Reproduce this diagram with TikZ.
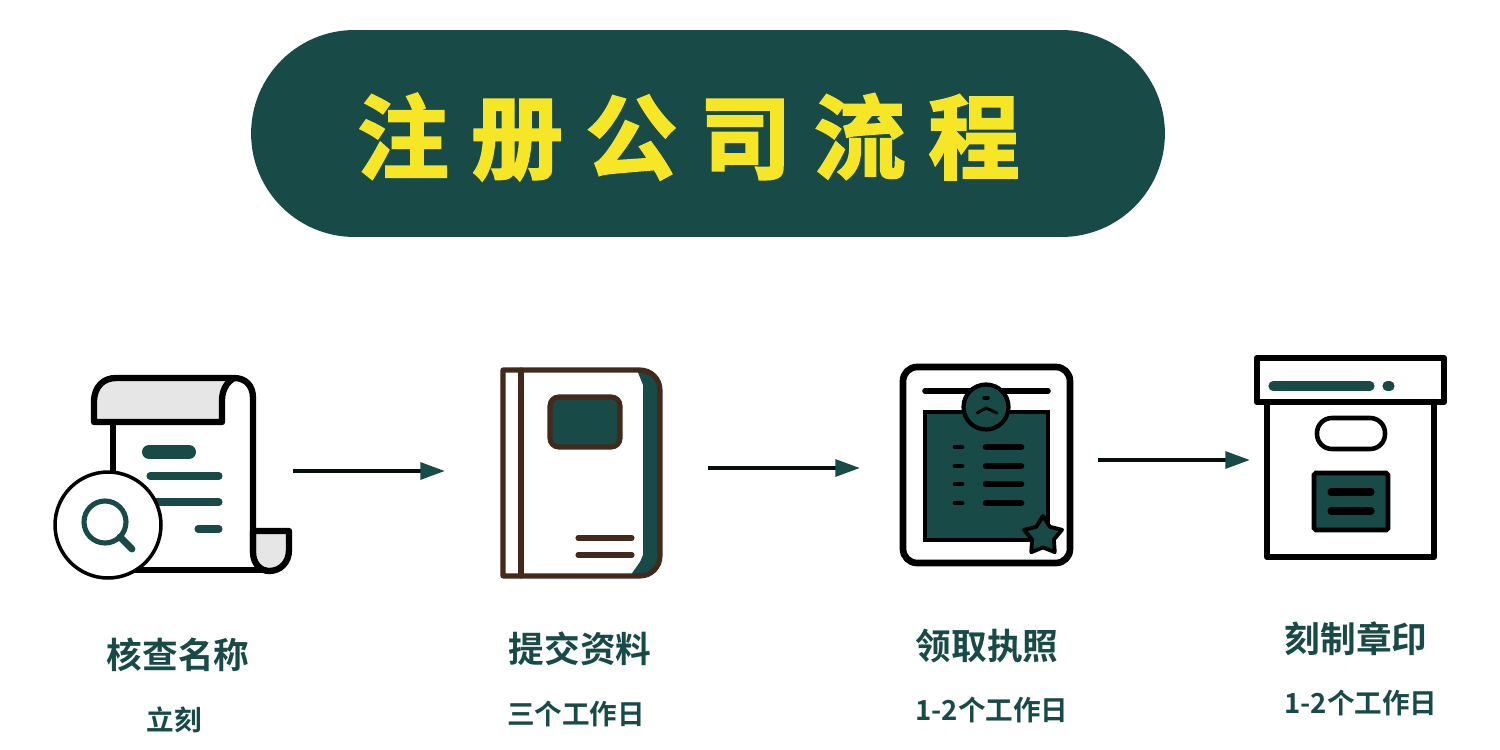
\documentclass[tikz,border=0pt]{standalone}
\usepackage{fontspec}
\setmainfont{Noto Sans CJK SC}[BoldFont={Noto Sans CJK SC Bold}]
\usetikzlibrary{arrows.meta,shapes.geometric}
\definecolor{pine}{HTML}{184A47}
\definecolor{lemon}{HTML}{F6E626}
\definecolor{bark}{HTML}{43291C}
\definecolor{paper}{HTML}{E6E6E6}
\begin{document}
\begin{tikzpicture}[x=0.02cm,y=-0.02cm,
	pill/.style={fill=pine,minimum width=18.28cm,minimum height=4.14cm,rounded corners=2.07cm},
	banner/.style={text=lemon,font=\fontsize{52}{52}\bfseries\addfontfeature{LetterSpace=25,FakeBold=2.5}},
	steptitle/.style={text=pine,font=\fontsize{20.3}{20.3}\bfseries},
	stepnote/.style={text=pine,font=\fontsize{15.7}{15.7}\bfseries},
	ink/.style={draw=black,line width=3.6pt,line join=round,line cap=round},
	thin ink/.style={draw=black,line width=2.6pt,line cap=round},
	brown/.style={draw=bark,line width=2.9pt,line join=round,line cap=round},
	bar/.style={draw=pine,line cap=round},
	flow/.style={draw=black!80!pine,line width=2.2pt,-{Triangle[length=14pt,width=9.5pt,color=pine]}}]
	\useasboundingbox (0,0) rectangle (1500,750);
	\node [pill] (head) at (708,133.5) {};
	\node [banner] (headtext) at (688.5,137) {注册公司流程};
	% scroll
	\draw [ink] (113,422)--(113,480);
	\draw [ink,fill=paper] (253,531)--(289,531)--(289,550) .. controls (289,563) and (280,571) .. (269,571) .. controls (260,571) and (253,563) .. (253,552)--cycle;
	\draw [ink] (130,570)--(265,570);
	\draw [ink] (253,552)--(253,398) .. controls (253,385) and (245,378) .. (234,378);
	\draw [ink,fill=paper] (222,422)--(94,422)--(94,402) .. controls (94,386) and (104,378) .. (116,378)--(234,378) .. controls (227,382) and (222,390) .. (222,400)--cycle;
	\draw [bar,line width=8pt] (149,452)--(189,452);
	\draw [bar,line width=4pt] (150,476)--(219,476);
	\draw [bar,line width=4pt] (150,502)--(219,502);
	\draw [bar,line width=4pt] (198,529)--(219,529);
	\node [draw=black,fill=white,circle,line width=2pt,inner sep=0pt,minimum width=2.12cm] (lens) at (108,525) {};
	\draw [pine,line width=2.9pt] (105,522) circle (21);
	\draw [pine,line width=3.9pt,line cap=round] (120,537)--(132,549);
	% book
	\fill [pine] (637,370)--(640,370) arc (-90:0:20)--(660,556) arc (0:90:20)--(630,576)--(640,562)--(643,555)--(643,385)--cycle;
	\draw [brown] (503,370)--(640,370) arc (-90:0:20)--(660,556) arc (0:90:20)--(503,576)--cycle;
	\draw [brown] (521,370)--(521,576);
	\draw [brown,fill=pine,rounded corners=5pt] (550,397) rectangle (620,447);
	\draw [brown] (578,538)--(632,538);
	\draw [brown] (578,555)--(632,555);
	% certificate
	\draw [ink,rounded corners=8pt,line width=3.8pt] (903,367) rectangle (1070,563);
	\draw [thin ink,line width=3.2pt] (925,391)--(1048,391);
	\draw [draw=black,line width=2.7pt,fill=pine] (925,412) rectangle (1048,540);
	\node [draw=black,fill=pine,circle,line width=2.4pt,inner sep=0pt,minimum width=0.9cm] (seal) at (986,407) {};
	\draw [thin ink,line width=2pt] (984,398)--(988,398);
	\draw [thin ink,line width=1.7pt] (977,413)--(986,408)--(997,413);
	\foreach \y in {447,466,484,503}{
		\draw [thin ink,line width=2.7pt] (955,\y)--(962,\y);
		\draw [thin ink,line width=3.8pt] (986,\y)--(1021,\y);
	}
	\node [draw=black,fill=pine,star,star points=5,star point ratio=1.75,line width=2.2pt,line join=round,inner sep=0pt,minimum size=0.8cm] (badge) at (1043,536) {};
	% archive box
	\draw [ink] (1267,402)--(1267,557)--(1434,557)--(1434,402);
	\draw [ink] (1257,358) rectangle (1444,402);
	\draw [bar,line width=5.2pt] (1273,386)--(1370,386);
	\draw [bar,line width=5.2pt] (1387,386)--(1390,386);
	\draw [thin ink,rounded corners=8.5pt] (1317,418) rectangle (1385,449);
	\draw [thin ink,fill=pine,rounded corners=1pt] (1314,473) rectangle (1388,530);
	\draw [thin ink,line width=4pt] (1331,492)--(1371,492);
	\draw [thin ink,line width=4pt] (1331,511)--(1371,511);
	% flow arrows
	\coordinate (a1) at (293,471);
	\coordinate (b1) at (445,471);
	\coordinate (a2) at (708,468);
	\coordinate (b2) at (860,468);
	\coordinate (a3) at (1098,460);
	\coordinate (b3) at (1250,460);
	\draw [flow] (a1)--(b1);
	\draw [flow] (a2)--(b2);
	\draw [flow] (a3)--(b3);
	% labels
	\node [steptitle] (t1) at (178,655) {核查名称};
	\node [stepnote] (n1) at (174,720) {立刻};
	\node [steptitle] (t2) at (580,649) {提交资料};
	\node [stepnote] (n2) at (576,714) {三个工作日};
	\node [steptitle] (t3) at (987,646) {领取执照};
	\node [stepnote] (n3) at (992,710) {1-2个工作日};
	\node [steptitle] (t4) at (1356,639) {刻制章印};
	\node [stepnote] (n4) at (1361,703) {1-2个工作日};
\end{tikzpicture}
\end{document}
